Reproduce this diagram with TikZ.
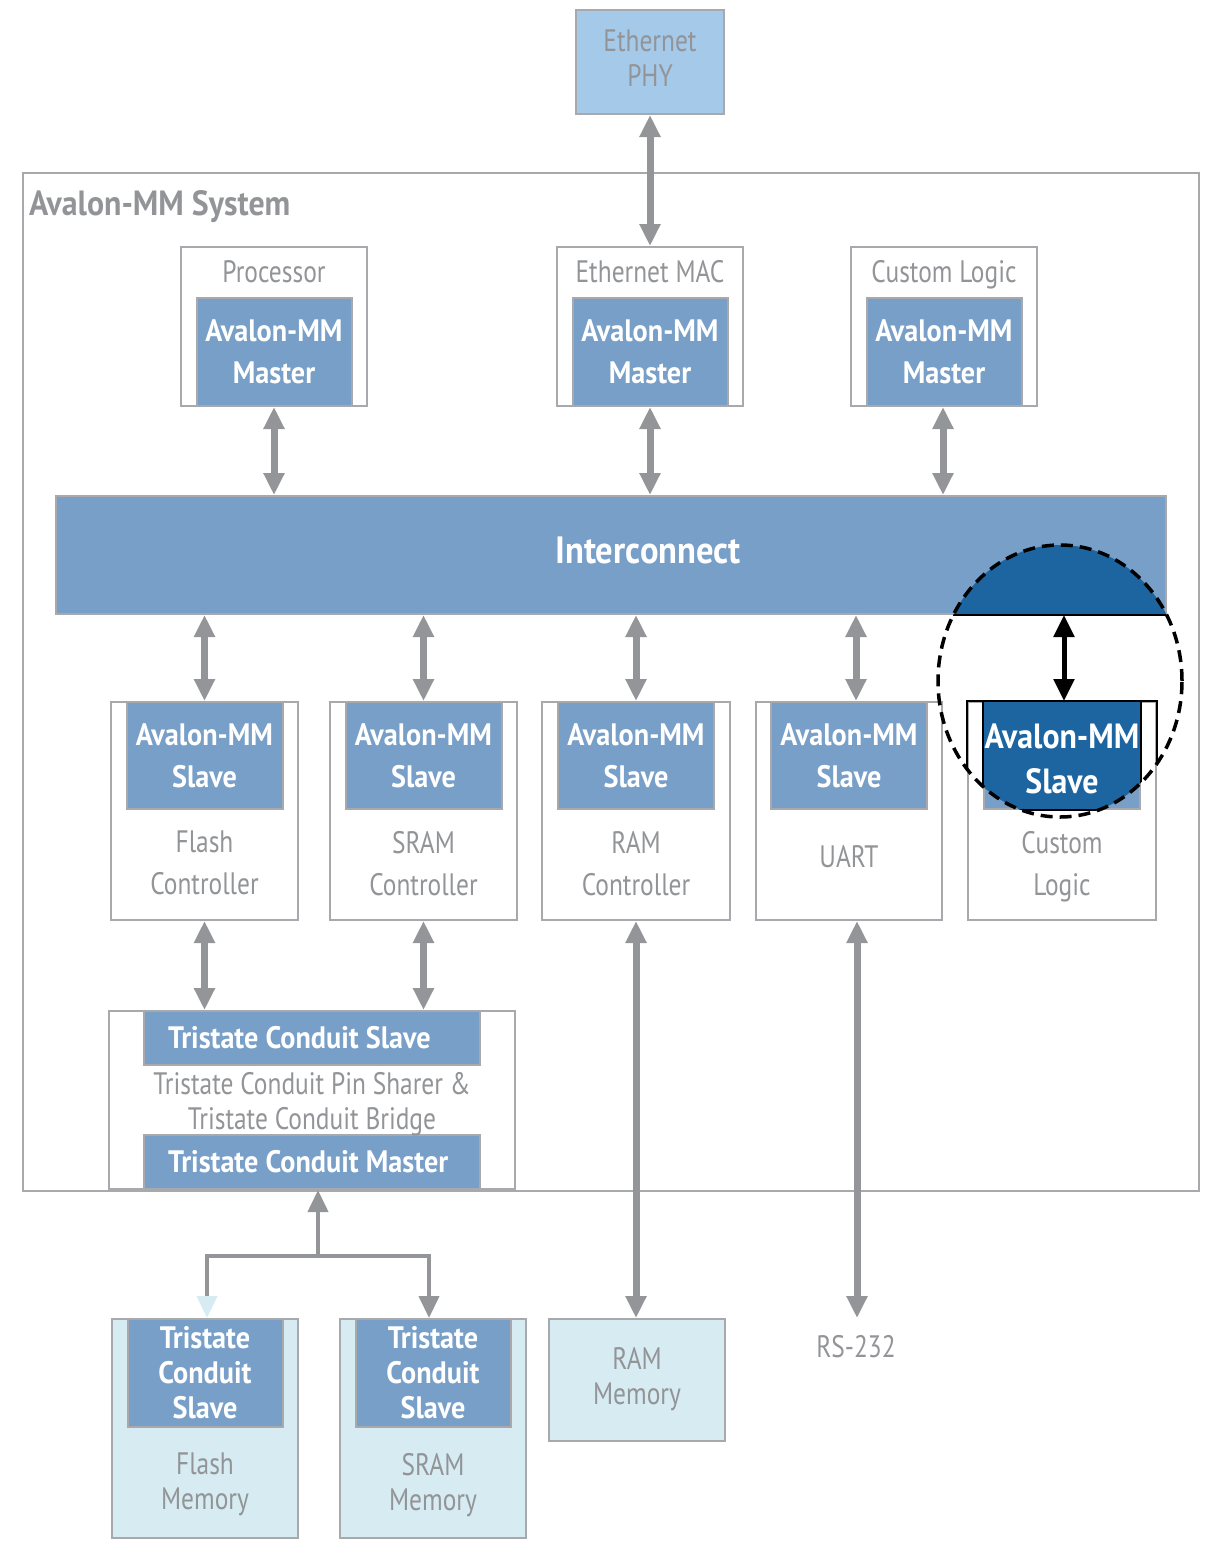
\documentclass[tikz,border=0pt]{standalone}
\usepackage{fontspec}
\setmainfont[FakeStretch=0.82,BoldFeatures={FakeStretch=0.91}]{PT Sans}
\usetikzlibrary{arrows.meta,positioning}

\definecolor{avtext}{HTML}{929497}
\definecolor{avline}{HTML}{A7A9AC}
\definecolor{avarrow}{HTML}{939598}
\definecolor{avblue}{HTML}{789FC7}
\definecolor{avdark}{HTML}{1C65A1}
\definecolor{avphy}{HTML}{A5C9E9}
\definecolor{avmem}{HTML}{D6ECF2}

\begin{document}
\begin{tikzpicture}[x=1pt,y=-1pt,
    >={Triangle[width=20pt,length=22pt]},
    box/.style={draw=avline,line width=2pt,fill=white,inner sep=0pt},
    port/.style={draw=avline,line width=2pt,fill=avblue,text=white,align=center,inner sep=0pt,
      font=\bfseries\fontsize{31}{42}\selectfont},
    lbl/.style={text=avtext,align=center,inner sep=0pt,font=\fontsize{31}{35}\selectfont},
    ctl/.style={lbl,font=\fontsize{31}{42}\selectfont},
    link/.style={draw=avarrow,line width=7pt,<->},
    branch/.style={draw=avarrow,line width=4pt}]
\useasboundingbox (0,0) rectangle (1222,1558);

% system frame
\node[box,fill=none,anchor=north west,minimum width=1176pt,minimum height=1018pt] (sys) at (22,172) {};
\node[lbl,anchor=base west,font=\bfseries\fontsize{35}{35}\selectfont] (systitle) at (29,215) {Avalon-MM System};

\node[box,fill=avphy,minimum width=148pt,minimum height=104pt,anchor=north west] (phy) at (575,9) {};
\node[lbl,below=21pt of phy.north] (phyt) {Ethernet\\PHY};

% masters
\node[box,minimum width=186pt,minimum height=159pt,anchor=north west] (proc) at (180,246) {};
\node[port,minimum width=155pt,minimum height=108pt,anchor=south] (procm) at (proc.south) {Avalon-MM\\Master};
\node[lbl,below=14pt of proc.north] (proct) {Processor};

\node[box,minimum width=186pt,minimum height=159pt,anchor=north west] (mac) at (556,246) {};
\node[port,minimum width=155pt,minimum height=108pt,anchor=south] (macm) at (mac.south) {Avalon-MM\\Master};
\node[lbl,below=14pt of mac.north] (mact) {Ethernet MAC};

\node[box,minimum width=186pt,minimum height=159pt,anchor=north west] (cm) at (850,246) {};
\node[port,minimum width=155pt,minimum height=108pt,anchor=south] (cmm) at (cm.south) {Avalon-MM\\Master};
\node[lbl,below=14pt of cm.north] (cmt) {Custom Logic};

% interconnect
\node[port,minimum width=1110pt,minimum height=118pt,anchor=north west] (ic) at (55,495) {};
\node[text=white,inner sep=0pt,font=\bfseries\fontsize{38}{40}\selectfont] (ict) at (648,550) {Interconnect};

% slaves
\node[box,minimum width=187pt,minimum height=218pt,anchor=north west] (flash) at (110,701) {};
\node[port,minimum width=156pt,minimum height=107pt,anchor=north] (flashp) at (flash.north) {Avalon-MM\\Slave};
\node[ctl,below=21pt of flashp.south] (flasht) {Flash\\Controller};

\node[box,minimum width=187pt,minimum height=218pt,anchor=north west] (sram) at (329,701) {};
\node[port,minimum width=156pt,minimum height=107pt,anchor=north] (sramp) at (sram.north) {Avalon-MM\\Slave};
\node[ctl,below=21pt of sramp.south] (sramt) {SRAM\\Controller};

\node[box,minimum width=188pt,minimum height=218pt,anchor=north west] (ram) at (541,701) {};
\node[port,minimum width=156pt,minimum height=107pt,anchor=north] (ramp) at (ram.north) {Avalon-MM\\Slave};
\node[ctl,below=21pt of ramp.south] (ramt) {RAM\\Controller};

\node[box,minimum width=186pt,minimum height=218pt,anchor=north west] (uart) at (755,701) {};
\node[port,minimum width=156pt,minimum height=107pt,anchor=north] (uartp) at (uart.north) {Avalon-MM\\Slave};
\node[ctl,below=35pt of uartp.south] (uartt) {UART};

\node[box,minimum width=188pt,minimum height=218pt,anchor=north west] (cust) at (967,701) {};
\node[port,minimum width=156pt,minimum height=107pt,anchor=north] (custp) at (cust.north) {};
\node[ctl,below=21pt of custp.south] (custt) {Custom\\Logic};

% tristate bridge
\node[box,minimum width=406pt,minimum height=178pt,anchor=north west] (bridge) at (108,1010) {};
\node[port,minimum width=336pt,minimum height=54pt,anchor=north] (tslave) at (bridge.north) {};
\node[port,minimum width=336pt,minimum height=54pt,anchor=south] (tmaster) at (bridge.south) {};
\node[text=white,inner sep=0pt,anchor=west,font=\bfseries\fontsize{31}{35}\selectfont] (tslavet)
  at ([xshift=25pt]tslave.west) {Tristate Conduit Slave};
\node[text=white,inner sep=0pt,anchor=west,font=\bfseries\fontsize{31}{35}\selectfont] (tmastert)
  at ([xshift=25pt]tmaster.west) {Tristate Conduit Master};
\node[lbl,below=6pt of tslave.south] (bridget) {Tristate Conduit Pin Sharer \&\\Tristate Conduit Bridge};

% memories
\node[box,fill=avmem,minimum width=186pt,minimum height=219pt,anchor=north west] (fmem) at (111,1318) {};
\node[port,minimum width=155pt,minimum height=108pt,anchor=north,font=\bfseries\fontsize{31}{35}\selectfont]
  (fmemp) at (fmem.north) {Tristate\\Conduit\\Slave};
\node[lbl,below=25pt of fmemp.south] (fmemt) {Flash\\Memory};

\node[box,fill=avmem,minimum width=186pt,minimum height=219pt,anchor=north west] (smem) at (339,1318) {};
\node[port,minimum width=155pt,minimum height=108pt,anchor=north,font=\bfseries\fontsize{31}{35}\selectfont]
  (smemp) at (smem.north) {Tristate\\Conduit\\Slave};
\node[lbl,below=25pt of smemp.south] (smemt) {SRAM\\Memory};

\node[box,fill=avmem,minimum width=176pt,minimum height=122pt,anchor=north west] (rmem) at (548,1318) {};
\node[lbl,below=29pt of rmem.north] (rmemt) {RAM\\Memory};

\node[lbl,anchor=north] (rs) at (856,1335) {RS-232};

% links
\draw[link] (phy.south) -- (mac.north);
\draw[link] (procm.south) -- (procm.south |- ic.north);
\draw[link] (macm.south) -- (macm.south |- ic.north);
\draw[link] ([xshift=-1pt]cmm.south) -- ([xshift=-1pt]cmm.south |- ic.north);
\draw[link] (flash.north |- ic.south) -- (flash.north);
\draw[link] (sram.north |- ic.south) -- (sram.north);
\draw[link] (ram.north |- ic.south) -- (ram.north);
\draw[link] ([xshift=7pt]uart.north |- ic.south) -- ([xshift=7pt]uart.north);
\draw[link] (flash.south) -- (flash.south |- bridge.north);
\draw[link] (sram.south) -- (sram.south |- bridge.north);
\draw[link] (ram.south) -- (ram.south |- rmem.north);
\draw[link] ([xshift=8pt]uart.south) -- ([xshift=8pt]uart.south |- rmem.north);

\coordinate (tj) at (318,1256);
\draw[branch,->] (tj) -- (tj |- bridge.south);
\draw[branch,{Triangle[width=20pt,length=22pt,color=avmem]}-{Triangle[width=20pt,length=22pt]}]
  ([xshift=2pt]fmem.north) |- (tj) -| ([xshift=-4pt]smem.north);

% highlighted slave
\coordinate (hl) at (1060,681);
\begin{scope}
  \clip (hl) ellipse [x radius=122pt,y radius=136pt];
  \fill[avdark] (ic.north west) rectangle (ic.south east);
  \fill[avdark] (custp.north west) rectangle (custp.south east);
  \draw[black,line width=2pt] (ic.south west) -- (ic.south east);
  \draw[black,line width=2pt] (cust.south west) rectangle (cust.north east);
  \draw[black,line width=2pt] (custp.south west) rectangle (custp.north east);
\end{scope}
\node[text=white,align=center,inner sep=0pt,font=\bfseries\fontsize{35}{45}\selectfont] (custpt)
  at ([yshift=-3pt]custp.center) {Avalon-MM\\Slave};
\draw[link,draw=black,line width=5pt] ([xshift=2pt]cust.north |- ic.south) -- ([xshift=2pt]cust.north);
\draw[black,line width=3.5pt,dash pattern=on 12pt off 7pt] (hl) ellipse [x radius=122pt,y radius=136pt];
\end{tikzpicture}
\end{document}
